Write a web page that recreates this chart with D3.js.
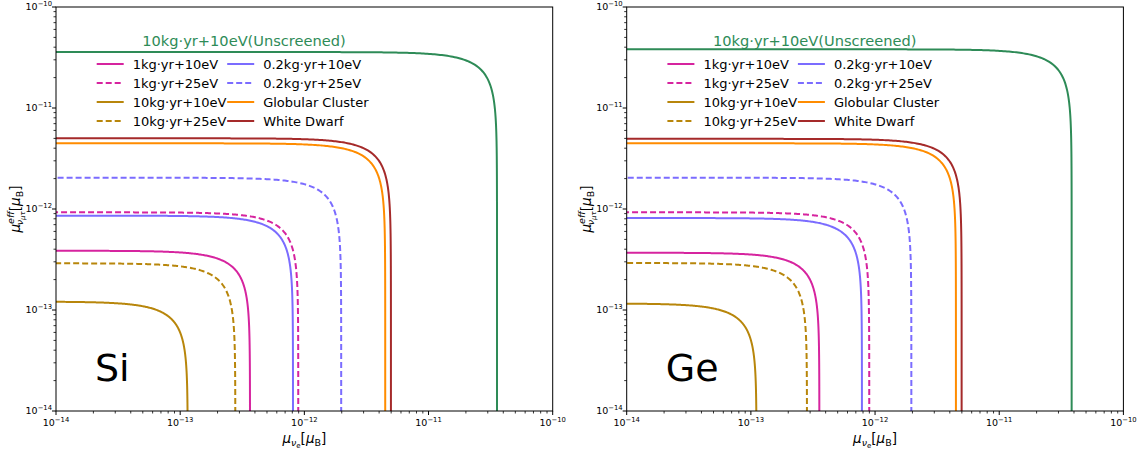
<!DOCTYPE html>
<html>
<head>
<meta charset="utf-8">
<script src="https://cdn.jsdelivr.net/npm/d3@7"></script>
<style>
  body { margin: 0; background: #fff; }
  text { font-family: "DejaVu Sans", sans-serif; }
</style>
</head>
<body>
<svg id="chart" width="1141" height="450"></svg>
<script>
// series names, same order in every array below
const seriesNames = ["10kg·yr+10eV(Unscreened)", "1kg·yr+10eV", "1kg·yr+25eV", "10kg·yr+10eV", "10kg·yr+25eV",
  "0.2kg·yr+10eV", "0.2kg·yr+25eV", "Globular Cluster", "White Dwarf"];
const seriesColors = ["#2e8b57", "#d6249f", "#d6249f", "#b8860b", "#b8860b", "#7b6cff", "#7b6cff", "#ff8c00", "#a52a2a"];
const seriesDashed = [false, false, true, false, true, false, true, false, false];

// bound on mu_nu_e (curve end on the x axis) and on mu_eff (flat level), Si panel
const siXBound = [3.56e-11, 3.65e-13, 8.93e-13, 1.15e-13, 2.78e-13, 8.1e-13, 1.98e-12, 4.48e-12, 4.98e-12];
const siYBound = [3.58e-11, 3.86e-13, 9.27e-13, 1.21e-13, 2.90e-13, 8.59e-13, 2.04e-12, 4.47e-12, 5.01e-12];
// Ge panel
const geXBound = [3.83e-11, 3.56e-13, 8.98e-13, 1.11e-13, 2.83e-13, 7.84e-13, 1.96e-12, 4.48e-12, 4.98e-12];
const geYBound = [3.81e-11, 3.69e-13, 9.27e-13, 1.16e-13, 2.92e-13, 8.14e-13, 2.04e-12, 4.47e-12, 4.95e-12];

const decades = [-14, -13, -12, -11, -10];
const panelNames = ["Si", "Ge"];

let svg = d3.select("#chart");
let panelAttr = { "top": 7, "bottom": 411, "width": 496.7 };
let panelLeft = [56, 626.7];

function drawPanel(p, xBound, yBound) {
  let x0 = panelLeft[p];
  let xScale = d3.scaleLog().domain([1e-14, 1e-10]).range([x0, x0 + panelAttr.width]);
  let yScale = d3.scaleLog().domain([1e-14, 1e-10]).range([panelAttr.bottom, panelAttr.top]);
  let g = svg.append("g");

  g.append("clipPath").attr("id", "clip" + p)
    .append("rect")
    .attr("x", x0).attr("y", panelAttr.top)
    .attr("width", panelAttr.width).attr("height", panelAttr.bottom - panelAttr.top);

  // minor + major ticks
  let minor = [];
  for (let d = -14; d < -10; d++) {
    for (let k = 2; k < 10; k++) minor.push(k * Math.pow(10, d));
  }
  minor.forEach(v => {
    g.append("line").attr("x1", xScale(v)).attr("x2", xScale(v))
      .attr("y1", panelAttr.bottom).attr("y2", panelAttr.bottom + 2.5)
      .style("stroke", "#000").style("stroke-width", 0.8);
    g.append("line").attr("y1", yScale(v)).attr("y2", yScale(v))
      .attr("x1", x0).attr("x2", x0 - 2.5)
      .style("stroke", "#000").style("stroke-width", 0.8);
  });
  decades.forEach(d => {
    let v = Math.pow(10, d);
    g.append("line").attr("x1", xScale(v)).attr("x2", xScale(v))
      .attr("y1", panelAttr.bottom).attr("y2", panelAttr.bottom + 4)
      .style("stroke", "#000").style("stroke-width", 1);
    g.append("line").attr("y1", yScale(v)).attr("y2", yScale(v))
      .attr("x1", x0).attr("x2", x0 - 4)
      .style("stroke", "#000").style("stroke-width", 1);

    let xt = g.append("text")
      .attr("x", xScale(v)).attr("y", panelAttr.bottom + 15)
      .style("text-anchor", "middle").style("font-size", "9.5px");
    xt.append("tspan").text("10");
    xt.append("tspan").attr("dy", -4).style("font-size", "6.8px").text("\u2212" + (-d));

    let yt = g.append("text")
      .attr("x", x0 - 4).attr("y", yScale(v) + 3)
      .style("text-anchor", "end").style("font-size", "9.5px");
    yt.append("tspan").text("10");
    yt.append("tspan").attr("dy", -4).style("font-size", "6.8px").text("\u2212" + (-d));
  });

  // curves: mu_e^2/a^2 + mu_eff^2/b^2 = 1
  let line = d3.line().x(d => xScale(d[0])).y(d => yScale(d[1]));
  for (let i = 0; i < seriesNames.length; i++) {
    let a = xBound[i], b = yBound[i];
    let pts = [];
    let ys = d3.range(0, 301).map(k => Math.pow(10, -15 + k / 300 * (Math.log10(b / Math.SQRT2) + 15)));
    let xs = d3.range(0, 301).map(k => Math.pow(10, Math.log10(a / Math.SQRT2) - k / 300 * (Math.log10(a / Math.SQRT2) + 15)));
    ys.forEach(y => pts.push([a * Math.sqrt(1 - (y / b) * (y / b)), y]));
    xs.forEach(x => pts.push([x, b * Math.sqrt(1 - (x / a) * (x / a))]));
    g.append("path")
      .attr("d", line(pts))
      .attr("clip-path", "url(#clip" + p + ")")
      .style("fill", "none")
      .style("stroke", seriesColors[i])
      .style("stroke-width", 2)
      .style("stroke-dasharray", seriesDashed[i] ? "6,3" : null);
  }

  // frame
  g.append("rect")
    .attr("x", x0).attr("y", panelAttr.top)
    .attr("width", panelAttr.width).attr("height", panelAttr.bottom - panelAttr.top)
    .style("fill", "none").style("stroke", "#000").style("stroke-width", 1);

  // unscreened label
  g.append("text")
    .attr("x", x0 + 188).attr("y", 46)
    .text(seriesNames[0])
    .style("text-anchor", "middle")
    .style("font-size", "14.6px")
    .style("fill", seriesColors[0]);

  // legend, two columns of four
  for (let i = 1; i < seriesNames.length; i++) {
    let col = Math.floor((i - 1) / 4);
    let row = (i - 1) % 4;
    let lx = x0 + 40.7 + col * 130.5;
    let ly = 64 + row * 19;
    g.append("line")
      .attr("x1", lx).attr("x2", lx + 27)
      .attr("y1", ly).attr("y2", ly)
      .style("stroke", seriesColors[i])
      .style("stroke-width", 2)
      .style("stroke-dasharray", seriesDashed[i] ? "6,3" : null);
    g.append("text")
      .attr("x", lx + 36).attr("y", ly + 4.8)
      .text(seriesNames[i])
      .style("font-size", "13px");
  }

  // material label
  g.append("text")
    .attr("x", x0 + 39).attr("y", 381)
    .text(panelNames[p])
    .style("font-size", "38px");

  // axis labels
  let xl = g.append("text")
    .attr("x", x0 + panelAttr.width / 2).attr("y", 443)
    .style("text-anchor", "middle").style("font-size", "13.5px");
  xl.append("tspan").style("font-style", "italic").text("\u03bc");
  xl.append("tspan").attr("dy", 3).style("font-size", "9.5px").style("font-style", "italic").text("\u03bd");
  xl.append("tspan").attr("dy", 2).style("font-size", "7px").text("e");
  xl.append("tspan").attr("dy", -5).text("[");
  xl.append("tspan").style("font-style", "italic").text("\u03bc");
  xl.append("tspan").attr("dy", 3).style("font-size", "9.5px").text("B");
  xl.append("tspan").attr("dy", -3).text("]");

  let yl = g.append("text")
    .attr("transform", "translate(" + (x0 - 36) + "," + ((panelAttr.top + panelAttr.bottom) / 2) + ")rotate(-90)")
    .style("text-anchor", "middle").style("font-size", "13.5px");
  yl.append("tspan").style("font-style", "italic").text("\u03bc");
  yl.append("tspan").attr("dy", -6).style("font-size", "9.5px").style("font-style", "italic").text("eff");
  yl.append("tspan").attr("dx", -14).attr("dy", 9).style("font-size", "9.5px").style("font-style", "italic").text("\u03bd");
  yl.append("tspan").attr("dy", 2).style("font-size", "7px").style("font-style", "italic").text("\u03bc\u03c4");
  yl.append("tspan").attr("dy", -5).text("[");
  yl.append("tspan").style("font-style", "italic").text("\u03bc");
  yl.append("tspan").attr("dy", 3).style("font-size", "9.5px").text("B");
  yl.append("tspan").attr("dy", -3).text("]");
}

drawPanel(0, siXBound, siYBound);
drawPanel(1, geXBound, geYBound);
</script>
</body>
</html>
